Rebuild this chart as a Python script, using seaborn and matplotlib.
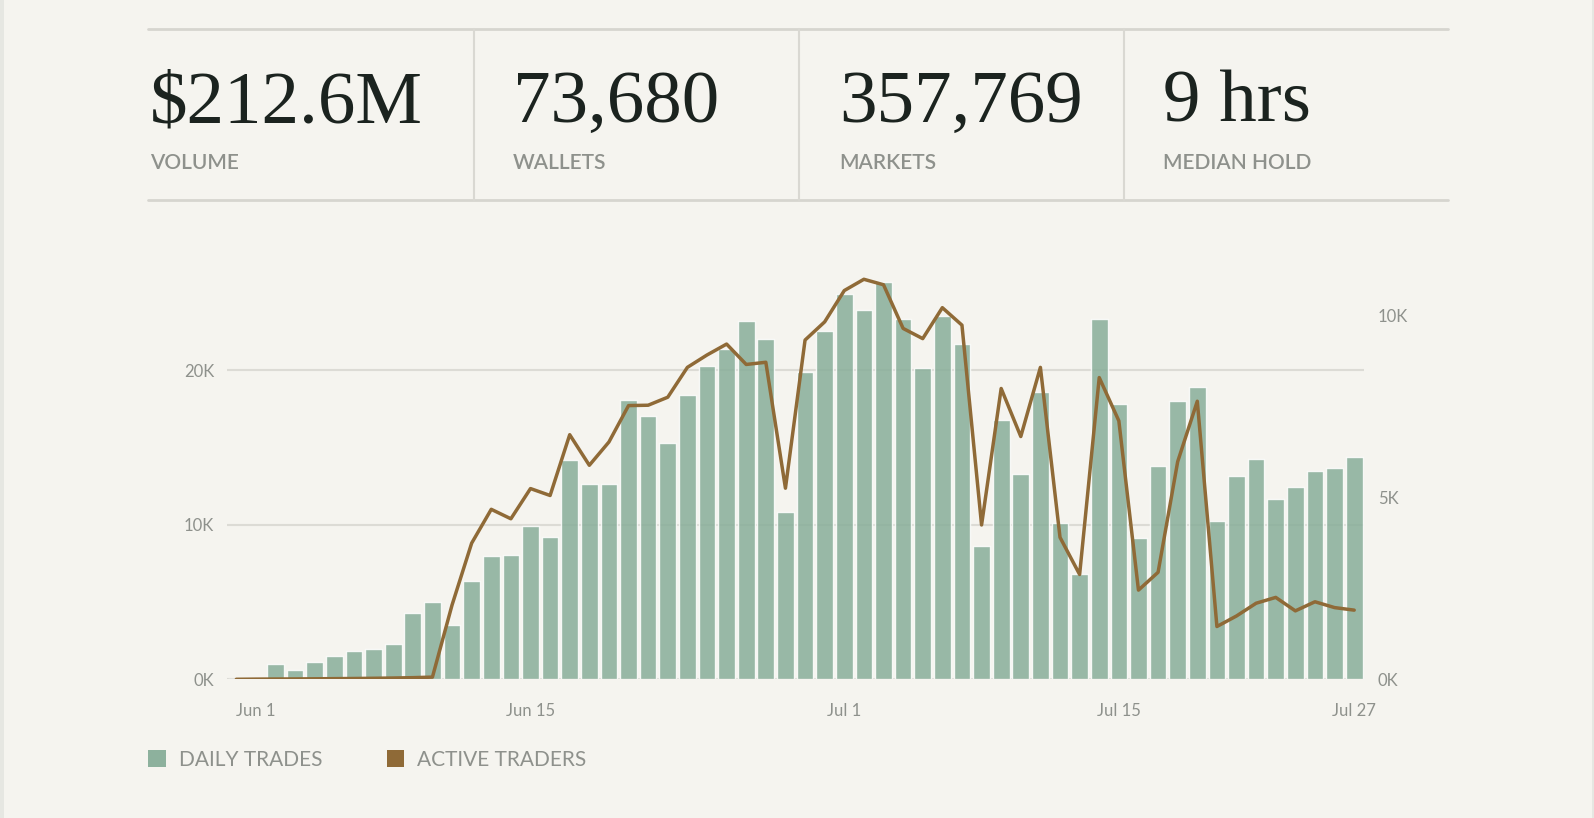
import matplotlib.pyplot as plt
import pandas as pd
import seaborn as sns
from matplotlib.lines import Line2D
from matplotlib.patches import Patch, Rectangle

# Data, one value per day from May 31 to Jul 27
daily_trades = [0, 0, 970, 600, 1140, 1510, 1810, 1970, 2270, 4280,
                5010, 3480, 6330, 7950, 8030, 9940, 9220, 14190, 12610, 12660,
                18060, 17030, 15260, 18380, 20240, 21380, 23150, 21980, 10800, 19890,
                22540, 24910, 23900, 25690, 23320, 20130, 23510, 21680, 8640, 16790,
                13300, 18560, 10090, 6790, 23320, 17820, 9140, 13790, 18020, 18920,
                10260, 13130, 14250, 11640, 12440, 13490, 13690, 14400]
active_traders = [0, 5, 8, 10, 14, 18, 22, 28, 35, 45,
                  60, 2040, 3740, 4670, 4410, 5240, 5050, 6720, 5880, 6520,
                  7520, 7530, 7750, 8570, 8910, 9210, 8650, 8710, 5250, 9320,
                  9820, 10680, 10990, 10840, 9640, 9360, 10210, 9730, 4240, 7990,
                  6670, 8570, 3900, 2880, 8290, 7100, 2450, 2940, 5980, 7640,
                  1450, 1740, 2090, 2250, 1880, 2130, 1970, 1900]
tick_pos = [1, 15, 31, 45, 57]
tick_labels = ['Jun 1', 'Jun 15', 'Jul 1', 'Jul 15', 'Jul 27']

stat_values = ['$212.6M', '73,680', '357,769', '9 hrs']
stat_labels = ['VOLUME', 'WALLETS', 'MARKETS', 'MEDIAN HOLD']

df = pd.DataFrame({'day': range(len(daily_trades)),
                   'trades': daily_trades,
                   'traders': active_traders})

BG = '#f5f4ef'
BAR = '#88ae99'
LINE = '#8f6a37'
GRID = '#dcdbd5'
MUTED = '#8e918c'
INK = '#1b231f'

sns.set_theme(style='white')
plt.rcParams['font.family'] = ['Lato', 'DejaVu Sans']

W, H = 1594, 818
fig = plt.figure(figsize=(W / 100, H / 100), dpi=100, facecolor=BG)


def fx(px):
    return px / W


def fy(py):
    return 1 - py / H


# thin side strips of the page
fig.add_artist(Rectangle((0, 0), fx(4), 1, transform=fig.transFigure, color='#e6e7e2', lw=0))
fig.add_artist(Rectangle((fx(1592), 0), fx(2), 1, transform=fig.transFigure, color='#e6e7e2', lw=0))

# header: stat boxes
for yy in (29, 200):
    fig.add_artist(Line2D([fx(148), fx(1448)], [fy(yy), fy(yy)], transform=fig.transFigure,
                          color='#d6d5cf', lw=2))
for xx in (474, 799, 1124):
    fig.add_artist(Line2D([fx(xx), fx(xx)], [fy(29), fy(200)], transform=fig.transFigure,
                          color='#d9d8d2', lw=1.5))

text_x = [150, 513, 839, 1163]
for x0, val, lab in zip(text_x, stat_values, stat_labels):
    fig.text(fx(x0), fy(122), val, family=['Liberation Serif', 'DejaVu Serif'],
             fontsize=54, color=INK, va='baseline', ha='left')
    fig.text(fx(x0), fy(169), lab, fontsize=15, fontweight='semibold',
             color=MUTED, va='baseline', ha='left')

# main chart
ax = fig.add_axes([fx(226.5), fy(679.3), fx(1364) - fx(226.5), fy(270) - fy(679.3)])
ax.set_facecolor('none')
sns.barplot(data=df, x='day', y='trades', color=BAR, alpha=0.85, width=0.85,
            saturation=1, ax=ax, native_scale=True)
ax.set_xlim(-0.5, len(daily_trades) - 0.5)
ax.set_ylim(0, 26470)
ax.set_yticks([0, 10000, 20000])
ax.set_yticklabels(['0K', '10K', '20K'])
ax.grid(axis='y', color=GRID, lw=1.5)
ax.set_axisbelow(True)
ax.set_xticks(tick_pos)
ax.set_xticklabels(tick_labels)
ax.set_xlabel('')
ax.set_ylabel('')
ax.tick_params(axis='x', length=0, pad=17, labelsize=12, labelcolor=MUTED)
ax.tick_params(axis='y', length=0, pad=9, labelsize=12, labelcolor=MUTED)
for s in ax.spines.values():
    s.set_visible(False)

ax2 = ax.twinx()
sns.lineplot(data=df, x='day', y='traders', color=LINE, lw=2.5, ax=ax2)
ax2.set_ylim(0, 11245)
ax2.set_yticks([0, 5000, 10000])
ax2.set_yticklabels(['0K', '5K', '10K'])
ax2.set_ylabel('')
ax2.tick_params(axis='y', length=0, pad=10, labelsize=12, labelcolor=MUTED)
ax2.grid(False)
for s in ax2.spines.values():
    s.set_visible(False)

# legend
handles = [Patch(facecolor=BAR, edgecolor='none', alpha=0.95),
           Patch(facecolor=LINE, edgecolor='none')]
fig.legend(handles, ['DAILY TRADES', 'ACTIVE TRADERS'], loc='center left',
           bbox_to_anchor=(fx(148), fy(760)), ncol=2, frameon=False,
           borderaxespad=0, borderpad=0,
           fontsize=15, labelcolor=MUTED, handlelength=0.85, handleheight=0.85,
           handletextpad=0.62, columnspacing=3.1)

fig.savefig('out.png', dpi=100, facecolor=BG)
